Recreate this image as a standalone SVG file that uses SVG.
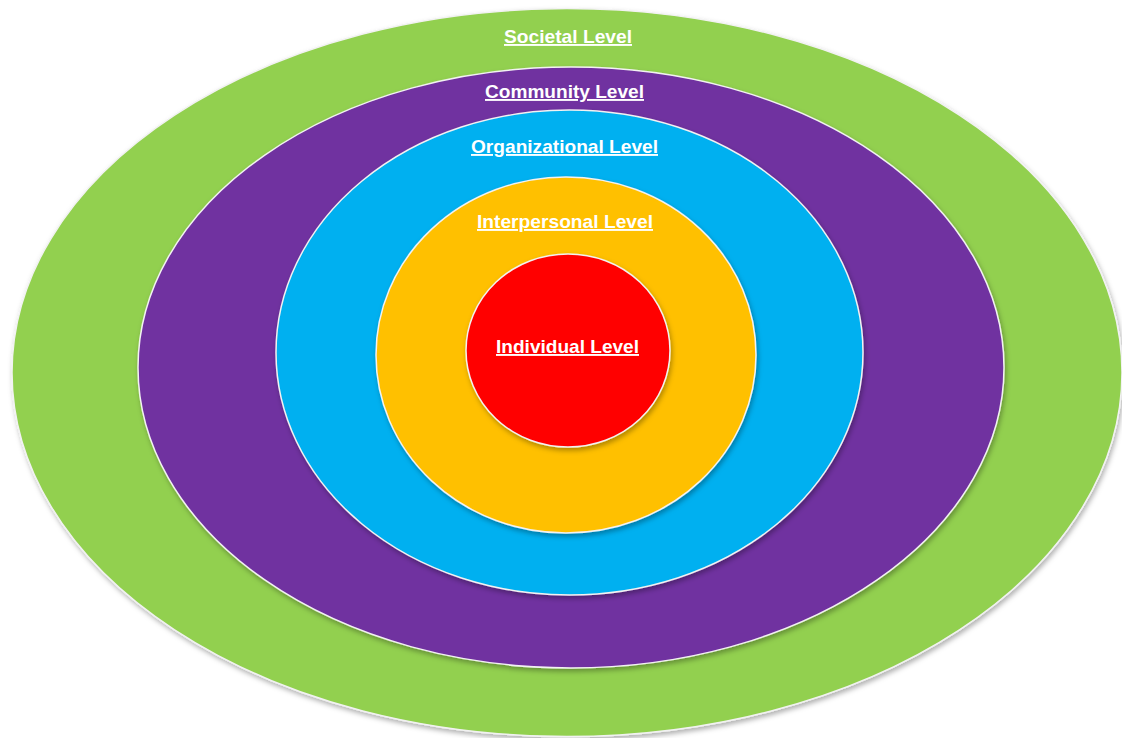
<svg xmlns="http://www.w3.org/2000/svg" width="1122" height="738" viewBox="0 0 1122 738">
  <style>
    .ring { stroke: #f2f2f2; stroke-width: 1.5; filter: url(#shadow); }
    .label { font-family: "Liberation Sans", Arial, sans-serif; font-weight: bold; font-size: 19px; fill: #ffffff; text-anchor: middle; text-decoration: underline; }
  </style>
  <defs>
    <filter id="shadow" x="-10%" y="-10%" width="120%" height="125%">
      <feDropShadow dx="1.5" dy="3" stdDeviation="2.5" flood-color="#000000" flood-opacity="0.3"/>
    </filter>
  </defs>
  <rect width="1122" height="738" fill="#ffffff"/>

  <g id="societal">
    <ellipse class="ring" cx="567" cy="372.5" rx="555" ry="364" fill="#92D050"/>
    <text class="label" x="568" y="43" textLength="128" lengthAdjust="spacingAndGlyphs">Societal Level</text>
  </g>

  <g id="community">
    <ellipse class="ring" cx="571" cy="367.5" rx="433" ry="300.5" fill="#7030A0"/>
    <text class="label" x="564.5" y="98" textLength="159" lengthAdjust="spacingAndGlyphs">Community Level</text>
  </g>

  <g id="organizational">
    <ellipse class="ring" cx="569.5" cy="352.5" rx="293.5" ry="242.5" fill="#00B0F0"/>
    <text class="label" x="564.5" y="153" textLength="187" lengthAdjust="spacingAndGlyphs">Organizational Level</text>
  </g>

  <g id="interpersonal">
    <ellipse class="ring" cx="566" cy="355" rx="190" ry="178" fill="#FFC000"/>
    <text class="label" x="565" y="228" textLength="176" lengthAdjust="spacingAndGlyphs">Interpersonal Level</text>
  </g>

  <g id="individual">
    <ellipse class="ring" cx="568" cy="350.5" rx="102" ry="96.5" fill="#FF0000"/>
    <text class="label" x="567.5" y="353" textLength="143" lengthAdjust="spacingAndGlyphs">Individual Level</text>
  </g>

  <g id="connectors"/>
</svg>
